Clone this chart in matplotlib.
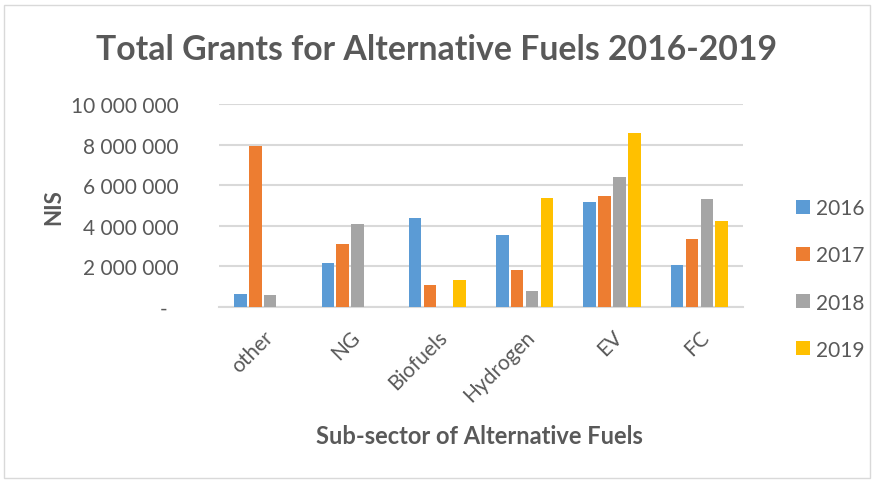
import numpy as np
import matplotlib.pyplot as plt
from matplotlib.patches import Rectangle
from matplotlib.ticker import FuncFormatter

plt.rcParams['font.family'] = ['Lato', 'DejaVu Sans']

categories = ["other", "NG", "Biofuels", "Hydrogen", "EV", "FC"]
years = ["2016", "2017", "2018", "2019"]
grants_2016 = [660000, 2180000, 4380000, 3540000, 5180000, 2080000]
grants_2017 = [7950000, 3080000, 1080000, 1840000, 5480000, 3330000]
grants_2018 = [570000, 4100000, 0, 800000, 6390000, 5310000]
grants_2019 = [0, 0, 1330000, 5360000, 8560000, 4250000]
series = [grants_2016, grants_2017, grants_2018, grants_2019]
colors = ["#5B9BD5", "#ED7D31", "#A5A5A5", "#FFC000"]

text_color = "#595959"
grid_color = "#D9D9D9"

fig = plt.figure(figsize=(8.74, 4.85), dpi=100)
fig.patches.append(Rectangle((0.005, 0.012), 0.99, 0.976, transform=fig.transFigure,
                             fill=False, edgecolor="#D9D9D9", linewidth=1))

ax = fig.add_axes([0.2506, 0.365, 0.5995, 0.4186])
x = np.arange(len(categories))
width = 0.143
step = 0.17
for i, (vals, c, yr) in enumerate(zip(series, colors, years)):
    ax.bar(x + (i - 1.5) * step, vals, width=width, color=c, label=yr, zorder=3)

ax.set_xlim(-0.5, len(categories) - 0.5)
ax.set_ylim(0, 10000000)
ax.set_yticks(np.arange(0, 10000001, 2000000))

def fmt(v, pos):
    if v == 0:
        return "-  "
    return f"{int(v):,}".replace(",", " ")

ax.yaxis.set_major_formatter(FuncFormatter(fmt))
ax.grid(axis="y", color=grid_color, linewidth=1.5, zorder=0)
for s in ["top", "right", "left"]:
    ax.spines[s].set_visible(False)
ax.spines["bottom"].set_color(grid_color)
ax.spines["bottom"].set_linewidth(1.5)
ax.tick_params(length=0, colors=text_color, labelsize=15)
ax.tick_params(axis="y", pad=29)
ax.set_xticks(x)
ax.set_xticklabels(categories, rotation=45, ha="right", rotation_mode="anchor")
ax.tick_params(axis="x", pad=14)

fig.text(0.5, 0.897, "Total Grants for Alternative Fuels 2016-2019", ha="center", va="center",
         fontsize=24.3, fontweight="bold", color=text_color)
fig.text(0.062, 0.573, "NIS", ha="center", va="center", rotation=90,
         fontsize=16, fontweight="bold", color=text_color)
fig.text(0.549, 0.099, "Sub-sector of Alternative Fuels", ha="center", va="center",
         fontsize=17, fontweight="bold", color=text_color)

handles, labels = ax.get_legend_handles_labels()
leg = fig.legend(handles, labels, loc="center left", bbox_to_anchor=(0.889, 0.4227),
                 frameon=False, fontsize=15, handlelength=0.68, handleheight=0.68,
                 labelspacing=1.3, handletextpad=0.3)
for t in leg.get_texts():
    t.set_color(text_color)

fig.savefig("out.png", dpi=100)
